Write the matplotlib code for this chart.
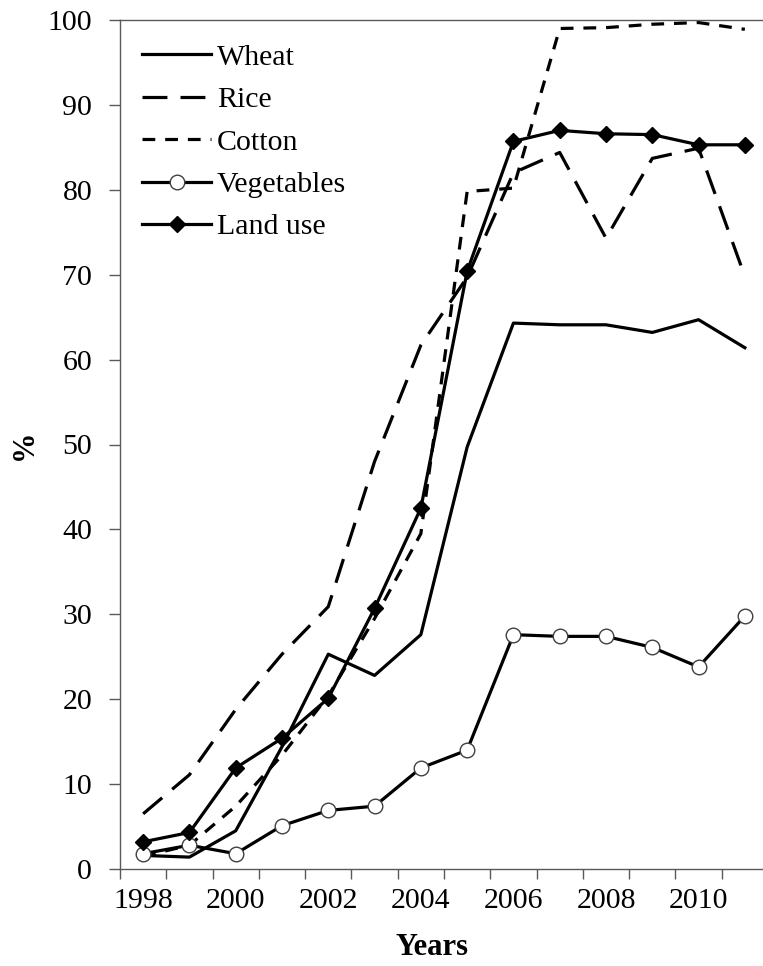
import numpy as np
import matplotlib
matplotlib.use("Agg")
import matplotlib.pyplot as plt

years = [1998, 1999, 2000, 2001, 2002, 2003, 2004, 2005, 2006, 2007, 2008, 2009, 2010, 2011]
wheat = [1.6, 1.4, 4.5, 14.4, 25.3, 22.8, 27.6, 49.7, 64.3, 64.1, 64.1, 63.2, 64.7, 61.4]
rice = [6.5, 11.1, 18.8, 25.3, 30.9, 48.0, 61.7, 69.7, 82.0, 84.4, 74.3, 83.7, 84.9, 69.8]
cotton = [1.5, 2.8, 7.4, 13.4, 20.4, 29.5, 39.5, 79.8, 80.2, 99.0, 99.1, 99.5, 99.7, 98.9]
vegetables = [1.8, 2.8, 1.8, 5.1, 6.9, 7.4, 11.9, 14.0, 27.6, 27.4, 27.4, 26.1, 23.8, 29.8]
land_use = [3.2, 4.3, 11.9, 15.4, 20.1, 30.7, 42.5, 70.4, 85.7, 87.0, 86.6, 86.5, 85.3, 85.3]
tick_labels = ["1998", "2000", "2002", "2004", "2006", "2008", "2010"]

plt.rcParams['font.family'] = ['Liberation Serif', 'DejaVu Serif']

W, H = 763, 966
fig = plt.figure(figsize=(W / 100, H / 100), dpi=100)
left, right, top, bottom = 120, 768, 20, 869
ax = fig.add_axes([left / W, (H - bottom) / H, (right - left) / W, (bottom - top) / H])

x = np.arange(len(years))
lw = 2.3
ax.plot(x, wheat, color='black', lw=lw, label='Wheat')
ax.plot(x, rice, color='black', lw=lw, dashes=(7.8, 4.1), label='Rice')
ax.plot(x, cotton, color='black', lw=lw, dashes=(4.0, 3.1), label='Cotton')
ax.plot(x, vegetables, color='black', lw=lw, marker='o', markersize=10.5,
        markerfacecolor='white', markeredgecolor='#404040', markeredgewidth=1.0,
        label='Vegetables')
ax.plot(x, land_use, color='black', lw=lw, marker='D', markersize=8.5,
        markerfacecolor='black', markeredgecolor='black', label='Land use')

ax.set_xlim(-0.5, len(years) - 0.5)
ax.set_ylim(0, 100)

spine_color = '#595959'
for s in ax.spines.values():
    s.set_color(spine_color)
    s.set_linewidth(1.0)

# category boundaries as tick marks, labels on categories
ax.set_xticks(np.arange(-0.5, len(years), 1.0))
ax.set_xticklabels([])
label_pos = [years.index(int(t)) for t in tick_labels]
ax.set_xticks(label_pos, minor=True)
ax.set_xticklabels(tick_labels, minor=True)
ax.tick_params(axis='x', which='major', direction='out', length=7.5, width=1.0,
               color=spine_color)
ax.tick_params(axis='x', which='minor', length=0, pad=14, labelsize=21.5)

ax.set_yticks(np.arange(0, 101, 10))
ax.tick_params(axis='y', direction='out', length=8, width=1.0, color=spine_color,
               pad=12, labelsize=21.5)

ax.set_ylabel('%', fontsize=22, fontweight='bold', va='center')
ax.yaxis.set_label_coords(-0.148, 0.5)
ax.set_xlabel('Years', fontsize=22, fontweight='bold', va='center')
ax.xaxis.set_label_coords(0.481, -0.093)

leg = ax.legend(loc='upper left', bbox_to_anchor=(0.016, 0.986), frameon=False,
                fontsize=21.5, handlelength=2.3, handletextpad=0.2,
                labelspacing=0.52, borderaxespad=0.0, borderpad=0.4)

fig.savefig('out.png', dpi=100)
